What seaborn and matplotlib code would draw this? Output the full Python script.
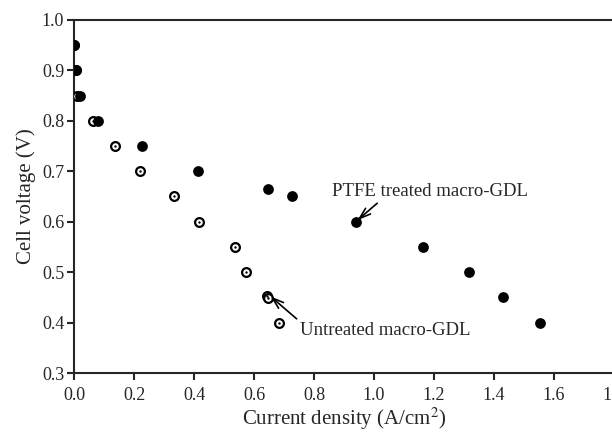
import seaborn as sns
import matplotlib.pyplot as plt
import pandas as pd

# PTFE treated macro-GDL (filled circles)
ptfe_x = [0.0, 0.005, 0.02, 0.079, 0.226, 0.412, 0.646, 0.728, 0.94, 1.162, 1.316, 1.429, 1.554]
ptfe_v = [0.95, 0.90, 0.85, 0.80, 0.75, 0.70, 0.665, 0.65, 0.60, 0.55, 0.50, 0.45, 0.40]

# untreated macro-GDL (open circles with centre dot)
untr_x = [0.0, 0.005, 0.011, 0.064, 0.137, 0.22, 0.334, 0.417, 0.537, 0.573, 0.642, 0.648, 0.682]
untr_v = [0.95, 0.90, 0.85, 0.80, 0.75, 0.70, 0.65, 0.60, 0.55, 0.50, 0.452, 0.449, 0.40]

x_ticks = [0.0, 0.2, 0.4, 0.6, 0.8, 1.0, 1.2, 1.4, 1.6, 1.8]
y_ticks = [0.3, 0.4, 0.5, 0.6, 0.7, 0.8, 0.9, 1.0]

sns.set_style("ticks")
plt.rcParams['font.family'] = ['Liberation Serif', 'DejaVu Serif']
plt.rcParams['mathtext.fontset'] = 'stix'

ptfe = pd.DataFrame({"j": ptfe_x, "v": ptfe_v})
untr = pd.DataFrame({"j": untr_x, "v": untr_v})

fig = plt.figure(figsize=(6.12, 4.33), dpi=100)
ax = fig.add_axes([74 / 612, 60 / 433, 540 / 612, 353 / 433])

sns.scatterplot(data=untr, x="j", y="v", ax=ax, marker="o", s=40,
                facecolor="white", edgecolor="black", linewidth=1.6, zorder=3)
sns.scatterplot(data=untr, x="j", y="v", ax=ax, marker="o", s=3,
                color="black", linewidth=0, zorder=4)
sns.scatterplot(data=ptfe, x="j", y="v", ax=ax, marker="o", s=60,
                color="black", linewidth=0, zorder=5)

ax.set_xlim(0, 1.8)
ax.set_ylim(0.3, 1.0)
ax.set_xticks(x_ticks)
ax.set_yticks(y_ticks)
ax.set_xticklabels([f"{t:.1f}" for t in x_ticks], fontsize=13)
ax.set_yticklabels([f"{t:.1f}" for t in y_ticks], fontsize=13)
ax.tick_params(direction="out", length=5, width=1.5, pad=2)
ax.tick_params(axis="x", pad=5)
for side in ["left", "bottom", "top", "right"]:
    ax.spines[side].set_linewidth(1.5)
ax.spines["top"].set_visible(True)
ax.spines["right"].set_visible(True)

ax.set_xlabel("Current density (A/cm$^2$)", fontsize=15, labelpad=1)
ax.set_ylabel("Cell voltage (V)", fontsize=15, labelpad=4)

ax.annotate("PTFE treated macro-GDL", xy=(0.945, 0.603), xytext=(0.86, 0.66),
            fontsize=13.5, va="center", ha="left",
            arrowprops=dict(arrowstyle="->,head_length=0.6,head_width=0.2", color="black", lw=1.2,
                            shrinkA=0, shrinkB=0, relpos=(0.25, 0.0)))
ax.annotate("Untreated macro-GDL", xy=(0.655, 0.452), xytext=(0.753, 0.385),
            fontsize=13.5, va="center", ha="left",
            arrowprops=dict(arrowstyle="->,head_length=0.6,head_width=0.2", color="black", lw=1.2,
                            shrinkA=0, shrinkB=0, relpos=(0.0, 1.0)))

fig.savefig("out.png", dpi=100)
